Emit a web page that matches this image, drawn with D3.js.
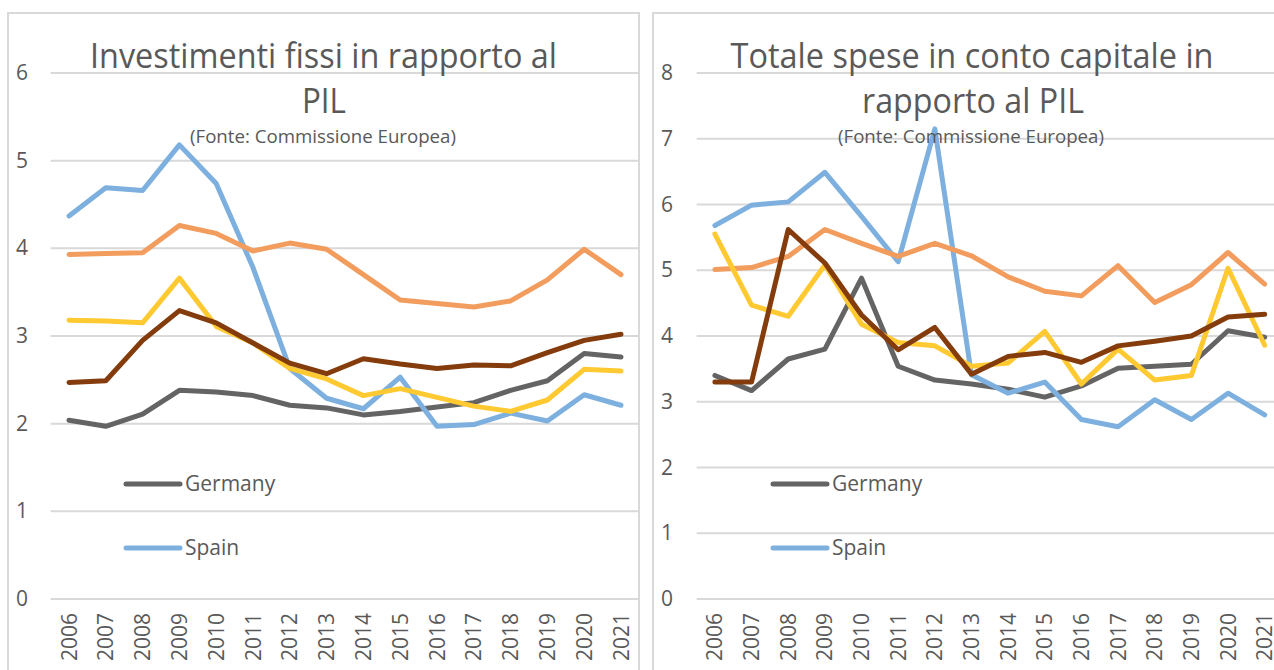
<!DOCTYPE html>
<html>
<head>
<meta charset="utf-8">
<script src="https://cdn.jsdelivr.net/npm/d3@7"></script>
<style>
body { margin: 0; background: #fff; }
text { font-family: "Open Sans", sans-serif; fill: #595959; }
</style>
</head>
<body>
<svg width="1274" height="670"></svg>
<script>
var years = ["2006","2007","2008","2009","2010","2011","2012","2013","2014","2015","2016","2017","2018","2019","2020","2021"];

// Investimenti fissi / PIL
var invGermany = [2.04,1.97,2.11,2.38,2.36,2.32,2.21,2.18,2.10,2.14,2.19,2.24,2.38,2.49,2.80,2.76];
var invSpain   = [4.37,4.69,4.66,5.18,4.74,3.78,2.63,2.29,2.17,2.53,1.97,1.99,2.12,2.03,2.33,2.21];
var invOrange  = [3.93,3.94,3.95,4.26,4.17,3.97,4.06,3.99,3.70,3.41,3.37,3.33,3.40,3.64,3.99,3.70];
var invYellow  = [3.18,3.17,3.15,3.66,3.11,2.92,2.63,2.51,2.32,2.40,2.30,2.20,2.14,2.27,2.62,2.60];
var invBrown   = [2.47,2.49,2.95,3.29,3.15,2.92,2.69,2.57,2.74,2.68,2.63,2.67,2.66,2.81,2.95,3.02];

// Totale spese in conto capitale / PIL
var capGermany = [3.40,3.17,3.65,3.80,4.88,3.54,3.33,3.27,3.19,3.07,3.24,3.51,3.54,3.57,4.08,3.98];
var capSpain   = [5.68,5.99,6.04,6.49,5.82,5.13,7.15,3.41,3.13,3.30,2.73,2.62,3.03,2.73,3.13,2.80];
var capOrange  = [5.01,5.04,5.21,5.62,5.41,5.21,5.41,5.22,4.90,4.68,4.61,5.07,4.51,4.78,5.27,4.79];
var capYellow  = [5.55,4.47,4.30,5.08,4.18,3.90,3.85,3.54,3.59,4.07,3.27,3.80,3.33,3.40,5.03,3.86];
var capBrown   = [3.30,3.30,5.62,5.11,4.32,3.79,4.13,3.42,3.69,3.75,3.60,3.85,3.92,4.00,4.29,4.33];

var seriesNames = ["Germany", "Spain", "Serie 3", "Serie 4", "Serie 5"];
var seriesColors = ["#646464", "#7db0de", "#f29c5e", "#ffc932", "#843c0c"];
var legendNames = ["Germany", "Spain"];

var invTicks = [0,1,2,3,4,5,6];
var capTicks = [0,1,2,3,4,5,6,7,8];

var invTitle = ["Investimenti fissi in rapporto al", "PIL"];
var capTitle = ["Totale spese in conto capitale in", "rapporto al PIL"];
var subtitle = "(Fonte: Commissione Europea)";

var svg = d3.select("svg");

function drawChart(cfg) {
  var g = svg.append("g");

  // panel border
  g.append("rect")
  .attr("x", cfg.panelX)
  .attr("y", 13)
  .attr("width", cfg.panelW)
  .attr("height", 700)
  .attr("fill", "none")
  .attr("stroke", "#d9d9d9")
  .attr("stroke-width", 2);

  var x = d3.scaleBand()
  .domain(years)
  .range([cfg.plotX0, cfg.plotX0 + 16 * cfg.band]);

  var y = d3.scaleLinear()
  .domain([0, d3.max(cfg.ticks)])
  .range([599, 73]);

  // gridlines
  g.selectAll("line.grid")
  .data(cfg.ticks)
  .enter().append("line")
  .attr("class", "grid")
  .attr("x1", x.range()[0])
  .attr("x2", Math.min(x.range()[1], cfg.gridEnd))
  .attr("y1", function(d) { return y(d); })
  .attr("y2", function(d) { return y(d); })
  .attr("stroke", "#d9d9d9")
  .attr("stroke-width", 2);

  // y labels
  g.selectAll("text.ytick")
  .data(cfg.ticks)
  .enter().append("text")
  .attr("class", "ytick")
  .attr("x", cfg.yLabelX)
  .attr("y", function(d) { return y(d) + 7; })
  .attr("text-anchor", "middle")
  .style("font-size", "21px")
  .text(function(d) { return d; });

  // x labels
  g.selectAll("text.xtick")
  .data(years)
  .enter().append("text")
  .attr("class", "xtick")
  .attr("transform", function(d) {
    return "translate(" + (x(d) + x.bandwidth() / 2 + 7.5) + ",613) rotate(-90)";
  })
  .attr("text-anchor", "end")
  .style("font-size", "21px")
  .text(function(d) { return d; });

  // title
  g.append("text")
  .attr("x", cfg.title1X)
  .attr("y", 68)
  .attr("text-anchor", "middle")
  .attr("textLength", cfg.title1W)
  .attr("lengthAdjust", "spacingAndGlyphs")
  .style("font-size", "34px")
  .text(cfg.title[0]);

  g.append("text")
  .attr("x", cfg.title2X)
  .attr("y", 113)
  .attr("text-anchor", "middle")
  .attr("textLength", cfg.title2W)
  .attr("lengthAdjust", "spacingAndGlyphs")
  .style("font-size", "34px")
  .text(cfg.title[1]);

  var line = d3.line()
  .x(function(d, i) { return x(years[i]) + x.bandwidth() / 2; })
  .y(function(d) { return y(d); });

  // series
  g.selectAll("path.series")
  .data(cfg.series)
  .enter().append("path")
  .attr("class", "series")
  .attr("d", function(d) { return line(d); })
  .attr("fill", "none")
  .attr("stroke", function(d, i) { return seriesColors[i]; })
  .attr("stroke-width", 5)
  .attr("stroke-linejoin", "round")
  .attr("stroke-linecap", "round");

  // subtitle drawn over the lines
  g.append("text")
  .attr("x", cfg.subX)
  .attr("y", 143)
  .attr("text-anchor", "middle")
  .attr("textLength", 266)
  .attr("lengthAdjust", "spacingAndGlyphs")
  .style("font-size", "18px")
  .text(subtitle);

  // legend
  var leg = g.selectAll("g.legend")
  .data(legendNames)
  .enter().append("g")
  .attr("class", "legend")
  .attr("transform", function(d, i) {
    return "translate(" + cfg.legendX + "," + (484 + i * 64) + ")";
  });

  leg.append("line")
  .attr("x1", 0)
  .attr("x2", 54)
  .attr("y1", 0)
  .attr("y2", 0)
  .attr("stroke", function(d, i) { return seriesColors[i]; })
  .attr("stroke-width", 5)
  .attr("stroke-linecap", "round");

  leg.append("text")
  .attr("x", 59)
  .attr("y", 7)
  .style("font-size", "21px")
  .text(function(d) { return d; });
}

drawChart({
  panelX: 8, panelW: 631,
  plotX0: 50.6, band: 36.8, gridEnd: 639,
  yLabelX: 22,
  ticks: invTicks,
  title: invTitle,
  title1X: 323.5, title1W: 467,
  title2X: 324, title2W: 44,
  subX: 323,
  legendX: 126,
  series: [invGermany, invSpain, invOrange, invYellow, invBrown]
});

drawChart({
  panelX: 653, panelW: 700,
  plotX0: 696.6, band: 36.65, gridEnd: 1274,
  yLabelX: 667,
  ticks: capTicks,
  title: capTitle,
  title1X: 972, title1W: 483,
  title2X: 973, title2W: 222,
  subX: 971,
  legendX: 773,
  series: [capGermany, capSpain, capOrange, capYellow, capBrown]
});
</script>
</body>
</html>
